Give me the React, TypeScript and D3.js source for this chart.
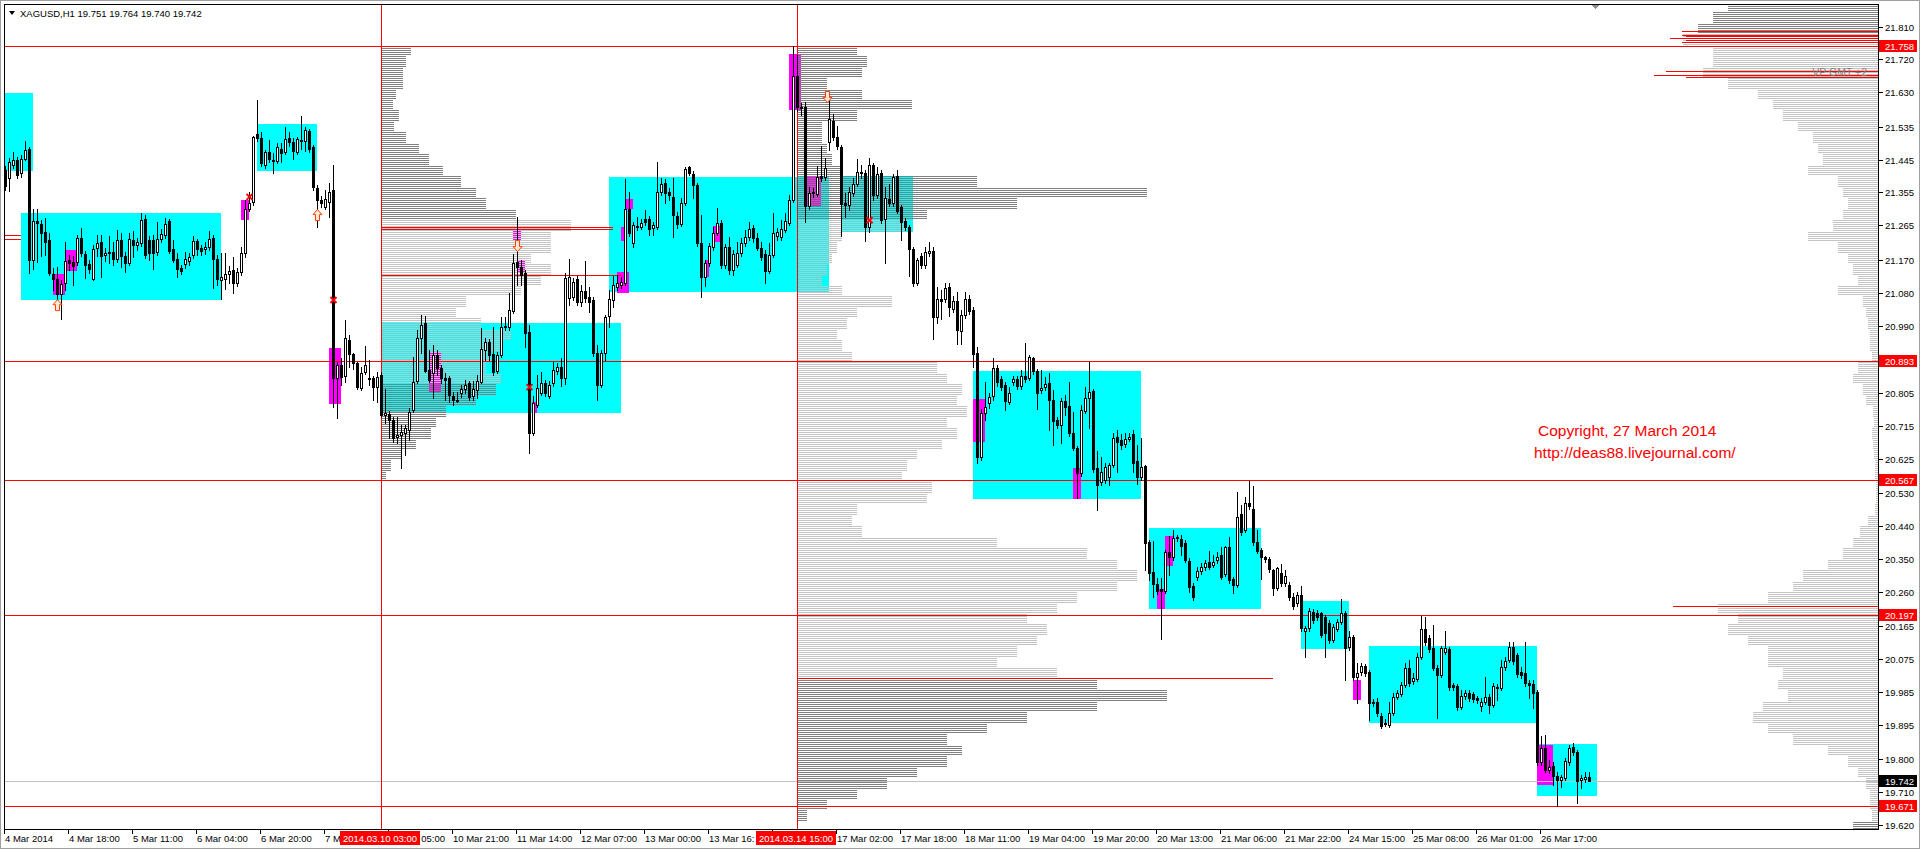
import React from "react";
import * as d3 from "d3";

const symbolName = "XAGUSD,H1";

// Hourly candles from 4 Mar 2014 to 27 Mar 2014: [open, high, low, close]
const ohlc: [number, number, number, number][] = [
  [21.417,21.428,21.362,21.373],[21.395,21.450,21.359,21.439],[21.430,21.467,21.422,21.444],[21.444,21.453,21.395,21.403],
  [21.409,21.458,21.398,21.447],[21.447,21.496,21.444,21.472],[21.474,21.480,21.134,21.170],[21.170,21.309,21.145,21.277],
  [21.277,21.309,21.165,21.271],[21.268,21.279,21.181,21.244],[21.247,21.285,21.183,21.219],[21.225,21.244,21.128,21.134],
  [21.131,21.148,21.087,21.117],[21.117,21.150,21.060,21.076],[21.076,21.115,21.008,21.104],[21.107,21.219,21.087,21.167],
  [21.170,21.183,21.142,21.162],[21.165,21.181,21.101,21.153],[21.165,21.238,21.156,21.230],[21.230,21.258,21.181,21.189],
  [21.186,21.194,21.120,21.156],[21.159,21.170,21.134,21.145],[21.117,21.211,21.115,21.200],[21.203,21.238,21.181,21.216],
  [21.219,21.238,21.123,21.181],[21.183,21.203,21.167,21.189],[21.192,21.236,21.162,21.189],[21.192,21.219,21.156,21.172],
  [21.172,21.252,21.165,21.225],[21.225,21.244,21.150,21.181],[21.181,21.192,21.137,21.162],[21.162,21.244,21.156,21.227],
  [21.225,21.249,21.178,21.211],[21.211,21.230,21.197,21.219],[21.216,21.299,21.208,21.279],[21.282,21.293,21.175,21.183],
  [21.225,21.236,21.170,21.189],[21.225,21.238,21.145,21.189],[21.192,21.274,21.183,21.227],[21.227,21.255,21.219,21.241],
  [21.238,21.285,21.230,21.268],[21.277,21.282,21.189,21.194],[21.200,21.225,21.165,21.170],[21.172,21.189,21.123,21.145],
  [21.148,21.156,21.131,21.139],[21.159,21.192,21.148,21.172],[21.167,21.189,21.156,21.178],[21.183,21.236,21.175,21.222],
  [21.222,21.227,21.183,21.200],[21.203,21.211,21.183,21.194],[21.200,21.219,21.186,21.205],[21.205,21.249,21.197,21.227],
  [21.230,21.238,21.093,21.172],[21.172,21.183,21.101,21.117],[21.115,21.189,21.063,21.123],[21.117,21.189,21.090,21.131],
  [21.131,21.153,21.107,21.139],[21.142,21.178,21.079,21.107],[21.107,21.148,21.098,21.137],[21.137,21.205,21.128,21.189],
  [21.189,21.334,21.178,21.309],[21.309,21.357,21.304,21.326],[21.329,21.510,21.321,21.507],[21.515,21.609,21.496,21.504],
  [21.504,21.521,21.428,21.436],[21.430,21.472,21.422,21.467],[21.467,21.499,21.439,21.447],[21.444,21.464,21.409,21.441],
  [21.441,21.491,21.436,21.480],[21.474,21.491,21.439,21.463],[21.467,21.535,21.461,21.502],[21.504,21.521,21.482,21.493],
  [21.493,21.504,21.447,21.469],[21.467,21.507,21.461,21.502],[21.499,21.565,21.474,21.496],[21.496,21.535,21.469,21.526],
  [21.524,21.529,21.467,21.474],[21.480,21.485,21.362,21.370],[21.367,21.375,21.260,21.334],[21.334,21.345,21.315,21.326],
  [21.315,21.362,21.309,21.337],[21.329,21.381,21.288,21.357],[21.362,21.430,20.766,20.846],[20.846,20.890,20.736,20.882],
  [20.882,20.901,20.827,20.849],[20.851,21.005,20.835,20.956],[20.950,20.964,20.876,20.912],[20.912,20.914,20.871,20.887],
  [20.887,20.890,20.816,20.821],[20.818,20.876,20.813,20.860],[20.862,20.934,20.857,20.882],[20.846,20.895,20.827,20.843],
  [20.846,20.851,20.786,20.821],[20.821,20.862,20.780,20.849],[20.854,20.862,20.739,20.744],[20.744,20.816,20.723,20.750],
  [20.747,20.755,20.681,20.731],[20.731,20.739,20.670,20.681],[20.684,20.739,20.668,20.690],[20.690,20.717,20.599,20.698],
  [20.695,20.717,20.635,20.709],[20.703,20.764,20.676,20.753],[20.758,20.904,20.753,20.835],[20.838,20.978,20.832,20.956],
  [20.956,21.019,20.915,20.991],[20.997,21.016,20.862,20.865],[20.868,20.923,20.835,20.841],[20.860,20.937,20.791,20.909],
  [20.909,20.923,20.854,20.873],[20.873,20.882,20.832,20.846],[20.846,20.860,20.786,20.841],[20.846,20.851,20.780,20.799],
  [20.797,20.808,20.772,20.786],[20.786,20.808,20.780,20.783],[20.805,20.827,20.794,20.816],[20.816,20.841,20.805,20.827],
  [20.832,20.838,20.786,20.794],[20.797,20.838,20.786,20.816],[20.813,20.854,20.791,20.838],[20.835,20.983,20.832,20.926],
  [20.923,20.956,20.895,20.945],[20.945,20.953,20.895,20.909],[20.912,20.986,20.854,20.862],[20.865,20.917,20.860,20.909],
  [20.909,21.013,20.904,20.986],[20.986,21.013,20.978,20.989],[20.986,21.079,20.978,21.033],[21.030,21.186,21.024,21.162],
  [21.165,21.288,21.101,21.150],[21.150,21.170,21.101,21.128],[21.134,21.142,20.931,20.969],[20.972,20.991,20.640,20.695],
  [20.695,20.797,20.690,20.777],[20.772,20.854,20.766,20.818],[20.805,20.862,20.799,20.832],[20.832,20.841,20.797,20.805],
  [20.797,20.838,20.791,20.827],[20.832,20.890,20.824,20.868],[20.865,20.887,20.857,20.876],[20.876,20.901,20.824,20.846],
  [20.846,21.134,20.829,21.120],[21.065,21.172,21.046,21.123],[21.068,21.120,21.060,21.109],[21.117,21.126,21.046,21.054],
  [21.054,21.101,21.043,21.085],[21.085,21.167,21.054,21.065],[21.068,21.096,21.027,21.054],[21.060,21.068,20.906,20.915],
  [20.915,20.937,20.786,20.827],[20.827,20.923,20.821,20.915],[20.915,21.019,20.895,21.013],[21.016,21.087,20.986,21.063],
  [21.060,21.126,21.041,21.101],[21.096,21.128,21.087,21.107],[21.101,21.123,21.093,21.109],[21.107,21.392,21.101,21.309],
  [21.309,21.357,21.236,21.244],[21.216,21.274,21.205,21.266],[21.263,21.288,21.252,21.260],[21.260,21.282,21.255,21.271],
  [21.282,21.307,21.266,21.274],[21.282,21.290,21.238,21.255],[21.258,21.274,21.238,21.266],[21.260,21.439,21.255,21.357],
  [21.357,21.395,21.348,21.378],[21.381,21.392,21.326,21.354],[21.357,21.367,21.334,21.348],[21.343,21.395,21.233,21.293],
  [21.290,21.301,21.258,21.268],[21.268,21.340,21.263,21.326],[21.326,21.425,21.321,21.419],[21.425,21.428,21.403,21.409],
  [21.406,21.414,21.340,21.375],[21.375,21.381,21.208,21.216],[21.216,21.293,21.068,21.123],[21.123,21.170,21.098,21.162],
  [21.162,21.216,21.153,21.208],[21.205,21.260,21.197,21.244],[21.244,21.312,21.238,21.271],[21.271,21.279,21.148,21.156],
  [21.156,21.214,21.148,21.205],[21.205,21.233,21.131,21.142],[21.142,21.197,21.128,21.186],[21.156,21.219,21.150,21.189],
  [21.189,21.230,21.181,21.216],[21.216,21.252,21.208,21.233],[21.233,21.274,21.225,21.255],[21.258,21.266,21.219,21.230],
  [21.230,21.244,21.197,21.203],[21.203,21.219,21.170,21.178],[21.186,21.197,21.107,21.139],[21.139,21.216,21.134,21.183],
  [21.183,21.299,21.178,21.244],[21.236,21.258,21.225,21.247],[21.233,21.279,21.225,21.255],[21.252,21.299,21.247,21.277],
  [21.271,21.348,21.266,21.334],[21.334,21.757,21.329,21.675],[21.675,21.732,21.579,21.590],[21.590,21.600,21.568,21.587],
  [21.590,21.603,21.274,21.318],[21.318,21.370,21.309,21.354],[21.357,21.367,21.343,21.354],[21.351,21.428,21.345,21.398],
  [21.400,21.482,21.386,21.395],[21.398,21.450,21.389,21.422],[21.493,21.628,21.472,21.557],[21.551,21.570,21.499,21.507],
  [21.507,21.537,21.474,21.482],[21.480,21.485,21.236,21.323],[21.326,21.354,21.288,21.321],[21.321,21.370,21.307,21.357],
  [21.354,21.395,21.345,21.378],[21.378,21.447,21.373,21.411],[21.409,21.430,21.395,21.411],[21.409,21.417,21.222,21.260],
  [21.260,21.450,21.247,21.430],[21.430,21.436,21.334,21.348],[21.348,21.425,21.340,21.406],[21.409,21.417,21.271,21.279],
  [21.282,21.370,21.162,21.340],[21.337,21.378,21.318,21.326],[21.326,21.406,21.318,21.398],[21.400,21.417,21.299,21.304],
  [21.315,21.321,21.225,21.274],[21.277,21.285,21.252,21.260],[21.260,21.266,21.126,21.200],[21.200,21.205,21.098,21.107],
  [21.107,21.175,21.101,21.170],[21.181,21.189,21.148,21.156],[21.156,21.205,21.148,21.192],[21.189,21.219,21.181,21.194],
  [21.194,21.205,20.953,21.013],[21.013,21.096,20.997,21.063],[21.063,21.087,21.008,21.057],[21.063,21.107,21.054,21.093],
  [21.096,21.107,21.016,21.041],[21.035,21.071,21.027,21.057],[21.057,21.082,20.939,20.978],[20.975,21.033,20.939,21.019],
  [21.019,21.082,21.011,21.063],[21.063,21.074,21.022,21.030],[21.033,21.041,20.876,20.912],[20.915,20.931,20.613,20.629],
  [20.629,20.761,20.621,20.750],[20.750,20.835,20.731,20.766],[20.777,20.805,20.764,20.794],[20.797,20.901,20.786,20.873],
  [20.873,20.882,20.824,20.835],[20.843,20.851,20.813,20.821],[20.827,20.835,20.758,20.783],[20.780,20.821,20.775,20.805],
  [20.835,20.851,20.827,20.843],[20.843,20.851,20.816,20.824],[20.824,20.868,20.816,20.851],[20.851,20.942,20.835,20.843],
  [20.846,20.909,20.841,20.904],[20.901,20.904,20.857,20.865],[20.865,20.871,20.761,20.805],[20.813,20.868,20.805,20.818],
  [20.821,20.849,20.813,20.829],[20.832,20.860,20.703,20.786],[20.786,20.813,20.662,20.728],[20.731,20.739,20.709,20.717],
  [20.717,20.791,20.668,20.783],[20.783,20.799,20.744,20.766],[20.769,20.835,20.687,20.695],[20.695,20.753,20.648,20.654],
  [20.654,20.659,20.517,20.585],[20.585,20.772,20.577,20.758],[20.755,20.821,20.750,20.791],[20.791,20.890,20.709,20.808],
  [20.810,20.816,20.588,20.596],[20.599,20.646,20.484,20.552],[20.561,20.629,20.552,20.588],[20.566,20.613,20.558,20.602],
  [20.574,20.613,20.552,20.607],[20.607,20.695,20.602,20.681],[20.684,20.703,20.588,20.670],[20.676,20.692,20.651,20.662],
  [20.665,20.695,20.657,20.679],[20.679,20.695,20.673,20.684],[20.692,20.703,20.588,20.613],[20.618,20.662,20.555,20.574],
  [20.574,20.681,20.566,20.602],[20.604,20.607,20.319,20.393],[20.396,20.402,20.292,20.311],[20.314,20.399,20.245,20.281],
  [20.281,20.297,20.253,20.262],[20.267,20.297,20.130,20.262],[20.262,20.374,20.256,20.369],[20.369,20.412,20.306,20.355],
  [20.355,20.429,20.347,20.407],[20.410,20.415,20.399,20.407],[20.404,20.415,20.360,20.385],[20.393,20.402,20.341,20.347],
  [20.344,20.352,20.259,20.273],[20.275,20.284,20.237,20.245],[20.300,20.327,20.292,20.316],[20.316,20.338,20.308,20.327],
  [20.327,20.347,20.319,20.338],[20.341,20.371,20.322,20.327],[20.333,20.360,20.327,20.341],[20.347,20.369,20.338,20.355],
  [20.360,20.382,20.295,20.300],[20.308,20.385,20.303,20.382],[20.382,20.410,20.284,20.292],[20.295,20.300,20.256,20.278],
  [20.278,20.533,20.273,20.465],[20.473,20.497,20.415,20.423],[20.429,20.519,20.423,20.503],[20.503,20.563,20.486,20.495],
  [20.486,20.550,20.388,20.396],[20.396,20.429,20.366,20.371],[20.374,20.380,20.295,20.355],[20.355,20.358,20.341,20.349],
  [20.349,20.355,20.314,20.322],[20.319,20.322,20.251,20.270],[20.270,20.327,20.264,20.325],[20.311,20.336,20.275,20.284],
  [20.284,20.319,20.275,20.303],[20.278,20.286,20.237,20.245],[20.245,20.256,20.212,20.220],[20.229,20.259,20.220,20.251],
  [20.251,20.275,20.152,20.160],[20.152,20.166,20.081,20.160],[20.160,20.215,20.152,20.207],[20.204,20.212,20.174,20.182],
  [20.201,20.209,20.182,20.190],[20.201,20.204,20.135,20.141],[20.190,20.196,20.081,20.146],[20.174,20.182,20.119,20.127],
  [20.127,20.171,20.122,20.163],[20.157,20.185,20.152,20.177],[20.177,20.240,20.171,20.201],[20.201,20.207,20.017,20.105],
  [20.108,20.152,20.100,20.135],[20.135,20.141,20.017,20.026],[20.026,20.064,19.954,20.037],[20.040,20.064,20.032,20.056],
  [20.056,20.061,20.029,20.037],[20.040,20.045,19.908,19.954],[19.957,19.965,19.946,19.954],[19.957,19.968,19.919,19.927],
  [19.919,19.927,19.886,19.891],[19.899,19.910,19.891,19.897],[19.894,19.957,19.888,19.927],[19.927,19.982,19.921,19.971],
  [19.971,19.990,19.965,19.982],[19.979,20.012,19.973,20.004],[20.004,20.064,19.998,20.051],[20.051,20.072,20.001,20.009],
  [20.015,20.037,20.006,20.023],[20.020,20.092,20.015,20.081],[20.081,20.193,20.075,20.157],[20.157,20.190,20.114,20.122],
  [20.133,20.141,20.094,20.103],[20.105,20.168,20.045,20.051],[20.051,20.059,19.913,20.032],[20.032,20.111,20.026,20.105],
  [20.094,20.152,20.089,20.105],[20.103,20.108,19.990,19.998],[20.004,20.009,19.990,19.998],[20.001,20.006,19.935,19.943],
  [19.943,19.990,19.938,19.973],[19.973,19.990,19.965,19.982],[19.982,19.990,19.960,19.968],[19.979,19.984,19.957,19.965],
  [19.968,19.973,19.954,19.962],[19.946,19.968,19.932,19.957],[19.957,20.026,19.951,19.971],[19.971,19.979,19.927,19.949],
  [19.949,20.009,19.943,20.001],[19.998,20.006,19.962,19.995],[19.995,20.072,19.990,20.053],[20.053,20.081,20.045,20.070],
  [20.072,20.122,20.067,20.108],[20.108,20.122,20.061,20.070],[20.086,20.092,20.026,20.034],[20.040,20.053,20.023,20.032],
  [20.037,20.122,20.001,20.009],[20.009,20.017,19.968,20.004],[20.006,20.017,19.941,19.982],[19.984,19.990,19.784,19.792],
  [19.792,19.864,19.784,19.831],[19.831,19.866,19.765,19.770],[19.770,19.798,19.762,19.779],[19.781,19.792,19.729,19.754],
  [19.754,19.765,19.672,19.743],[19.743,19.757,19.724,19.751],[19.748,19.803,19.743,19.795],[19.792,19.839,19.784,19.831],
  [19.833,19.844,19.812,19.820],[19.820,19.825,19.680,19.740],[19.743,19.757,19.721,19.748],[19.746,19.765,19.737,19.751],
  [19.751,19.764,19.740,19.742],
];

const priceTicks = [21.81, 21.72, 21.63, 21.535, 21.445, 21.355, 21.265, 21.17, 21.08, 20.99, 20.9, 20.805, 20.715,
  20.625, 20.53, 20.44, 20.35, 20.26, 20.165, 20.075, 19.985, 19.895, 19.8, 19.71, 19.62];

const timeLabels = ["4 Mar 2014", "4 Mar 18:00", "5 Mar 11:00", "6 Mar 04:00", "6 Mar 20:00", "7 Mar 13:00",
  "10 Mar 05:00", "10 Mar 21:00", "11 Mar 14:00", "12 Mar 07:00", "13 Mar 00:00", "13 Mar 16:00", "14 Mar 09:00",
  "17 Mar 02:00", "17 Mar 18:00", "18 Mar 11:00", "19 Mar 04:00", "19 Mar 20:00", "20 Mar 13:00", "21 Mar 06:00",
  "21 Mar 22:00", "24 Mar 15:00", "25 Mar 08:00", "26 Mar 01:00", "26 Mar 17:00"];
const barsPerTimeLabel = 16;

const markedTimes: [number, string][] = [[94, "2014.03.10 03:00"], [198, "2014.03.14 15:00"]];

const levelPrices = [21.758, 20.893, 20.567, 20.197, 19.671];
const currentPrice = 19.742;
// [fromBar, toBar, price]
const levelSegments: [number, number, number][] = [
  [-0.2, 4, 21.238], [-0.2, 4, 21.227], [94, 152, 21.26], [94, 152, 21.255], [94, 154, 21.128], [198, 317, 20.023],
];

// [fromBar, toBar, topPrice, bottomPrice]
const cyanZones: [number, number, number, number][] = [
  [-0.2, 7, 21.628, 21.415], [4, 54, 21.299, 21.06], [63, 78, 21.543, 21.414], [94, 154, 20.997, 20.75],
  [151, 206, 21.398, 21.082], [209, 227, 21.4, 21.247], [242, 284, 20.865, 20.514], [286, 314, 20.435, 20.212],
  [324, 336, 20.234, 20.103], [341, 383, 20.111, 19.899], [383, 398, 19.842, 19.699],
];
const magentaZones: [number, number, number, number][] = [
  [12, 15, 21.131, 21.074], [15.25, 18, 21.197, 21.139], [59, 61, 21.334, 21.279], [81, 84, 20.928, 20.775],
  [106, 109, 20.915, 20.808], [127, 129, 21.252, 21.222], [128.25, 130, 21.17, 21.134], [131.75, 133, 20.78, 20.75],
  [153, 156, 21.137, 21.079], [154, 154.75, 21.26, 21.222], [155.25, 157, 21.337, 21.309], [175, 176, 21.17, 21.123],
  [177, 178.75, 21.263, 21.219], [196, 199, 21.735, 21.581], [200.5, 204, 21.398, 21.318], [242, 245, 20.788, 20.67],
  [267, 269, 20.599, 20.514], [288, 290, 20.267, 20.212], [290, 292, 20.412, 20.33], [337, 339, 20.017, 19.962],
  [383, 387, 19.839, 19.729],
];

const signalMarks: [number, number, string][] = [
  [13, 21.046, "up"], [78, 21.293, "up"], [128, 21.208, "down"], [205.5, 21.617, "down"],
  [61, 21.343, "x"], [82, 21.06, "x"], [131, 20.821, "x"], [216, 21.279, "x"],
];

// Volume profiles: relative volume per 0.03 price bin, listed from the top bin downward
const profileStep = 0.03;
const profile10Mar = [30, 25, 22, 22, 15, 12, 18, 13, 25, 38, 48, 62, 80, 95, 105, 135, 190, 170, 170, 150, 170, 160,
  140, 85, 75, 100, 130, 120, 110, 105, 120, 115, 95, 65, 55, 50, 35, 20, 10, 5];
const profile10MarTop = 21.76;
const valueArea10Mar = [21.28, 20.84];

const profile14Mar = [60, 70, 65, 30, 65, 115, 60, 25, 25, 30, 35, 45, 180, 350, 220, 130, 110, 45, 40, 35, 30, 25, 45,
  95, 60, 50, 40, 45, 55, 140, 150, 165, 160, 170, 150, 160, 145, 120, 110, 105, 135, 130, 60, 55, 65, 200, 290, 320,
  340, 320, 280, 260, 230, 250, 240, 220, 200, 260, 300, 370, 300, 230, 190, 150, 165, 150, 120, 90, 60, 30, 10];
const profile14MarTop = 21.76;
const valueArea14Mar = [21.275, 20.009];

const profileVisible = [150, 165, 180, 195, 165, 165, 175, 150, 120, 105, 95, 80, 65, 60, 55, 70, 40, 35, 30, 35, 45, 70,
  40, 30, 25, 20, 40, 15, 12, 10, 8, 8, 6, 20, 25, 15, 12, 5, 4, 6, 5, 4, 3, 3, 2, 2, 3, 10, 18, 25, 35, 50, 75, 85, 110,
  160, 140, 150, 130, 110, 110, 95, 100, 90, 115, 125, 110, 85, 50, 30, 20, 12, 8, 8, 6, 25];
const profileVisibleTop = 21.88;
const valueAreaVisible = [21.8, 19.63];
// [price, volume] of the highlighted profile rows
const profileVisibleMarked: [number, number][] = [
  [21.798, 196], [21.787, 196], [21.784, 192], [21.779, 208], [21.773, 192], [21.768, 196], [21.688, 212],
  [21.677, 224], [21.672, 192], [20.222, 205],
];

const copyrightLines = ["Copyright, 27 March 2014", "http://deas88.livejournal.com/"];

const W = 1920;
const H = 849;
const L = 4, T = 4, R = 1878, B = 829;
const FONT = "'Liberation Sans', Arial, sans-serif";
const AXIS_FONT_SIZE = 9.5;

const x = d3.scaleLinear().domain([0, 396]).range([5, 1589]);
const y = d3.scaleLinear().domain([19.609, 21.872]).range([B, T]);
const vol = d3.scaleLinear().domain([0, 100]).range([0, 100]);
const fmt = d3.format(".3f");

const rx = (b: number) => Math.round(x(b));
const ry = (p: number) => Math.round(y(p));

let measureCtx: CanvasRenderingContext2D | null = null;
function measure(t: string): number {
  if (!measureCtx) {
    measureCtx = document.createElement("canvas").getContext("2d");
    if (measureCtx) measureCtx.font = `${AXIS_FONT_SIZE}px 'Liberation Sans'`;
  }
  return measureCtx ? measureCtx.measureText(t).width : t.length * 5;
}

// Visible part of a time label when the marked-time boxes cover it (like the terminal does)
function visibleLabel(text: string, start: number, boxes: [number, number][]): { text: string; x: number } | null {
  const end = start + measure(text);
  for (const [b0, b1] of boxes) {
    if (end <= b0 || start >= b1) continue;
    if (start < b0) {
      let t = text;
      while (t.length && start + measure(t) > b0 + 1.5) t = t.slice(0, -1);
      return t.trim().length ? { text: t, x: start } : null;
    }
    let t = text;
    while (t.length && end - measure(t) < b1 + 1) t = t.slice(1);
    t = t.trimStart();
    return t.length ? { text: t, x: end - measure(t) } : null;
  }
  return { text, x: start };
}

type Prof = { values: number[]; top: number; va: number[]; anchor: number; dir: number };

function Profile({ values, top, va, anchor, dir }: Prof) {
  return (
    <g>
      {values.map((v, k) => {
        const pTop = top - k * profileStep;
        const pBot = pTop - profileStep;
        const y0 = ry(pTop);
        const y1 = ry(pBot);
        const len = Math.round(vol(v));
        const mid = (pTop + pBot) / 2;
        const inVa = mid <= va[0] && mid >= va[1];
        return (
          <rect key={k} x={dir > 0 ? anchor : anchor - len} y={y0} width={len} height={y1 - y0}
            fill={inVa ? "url(#hatchLight)" : "url(#hatchDark)"} />
        );
      })}
    </g>
  );
}

export default function App() {
  const last = ohlc[ohlc.length - 1];
  const header = `${symbolName}  ${last.map((v) => fmt(v)).join(" ")}`;
  const markBoxes: [number, number][] = markedTimes.map(([b]) => [rx(b) - 41, rx(b) + 39]);
  const labelPrices = [...levelPrices, currentPrice];
  const shownTicks = priceTicks.filter((p) => labelPrices.every((q) => Math.abs(y(p) - y(q)) >= 9));
  return (
    <svg width={W} height={H} viewBox={`0 0 ${W} ${H}`}
      style={{ position: "absolute", left: 0, top: 0, background: "#fff" }}>
      <defs>
        <pattern id="hatchDark" width="8" height="2" patternUnits="userSpaceOnUse">
          <rect x="0" y="0" width="8" height="1" fill="#808080" />
        </pattern>
        <pattern id="hatchLight" width="8" height="2" patternUnits="userSpaceOnUse">
          <rect x="0" y="0" width="8" height="1" fill="#c4c4c4" />
        </pattern>
        <clipPath id="plotClip">
          <rect x={L} y={T} width={R - L} height={B - T} />
        </clipPath>
      </defs>
      <rect x={0} y={0} width={W} height={H} fill="#fff" />
      <rect x={0.5} y={0.5} width={W - 1} height={H - 1} fill="none" stroke="#a0a0a0" />

      <g clipPath="url(#plotClip)" shapeRendering="crispEdges">
        {cyanZones.map(([s, e, pt, pb], i) => (
          <rect key={"c" + i} x={rx(s)} y={ry(pt)} width={rx(e) - rx(s)} height={ry(pb) - ry(pt)} fill="#00ffff" />
        ))}
        {magentaZones.map(([s, e, pt, pb], i) => (
          <rect key={"m" + i} x={rx(s)} y={ry(pt)} width={rx(e) - rx(s)} height={ry(pb) - ry(pt)} fill="#ff00ff" />
        ))}

        <Profile values={profile10Mar} top={profile10MarTop} va={valueArea10Mar} anchor={rx(markedTimes[0][0])} dir={1} />
        <Profile values={profile14Mar} top={profile14MarTop} va={valueArea14Mar} anchor={rx(markedTimes[1][0])} dir={1} />
        <Profile values={profileVisible} top={profileVisibleTop} va={valueAreaVisible} anchor={R} dir={-1} />
        {profileVisibleMarked.map(([p, v], i) => (
          <rect key={"pm" + i} x={R - Math.round(vol(v))} y={ry(p)} width={Math.round(vol(v))} height={1} fill="#ff0000" />
        ))}

        <text x={1867} y={76} textAnchor="end" fontFamily={FONT} fontSize={10.5} fill="#808080">VP GMT +2</text>

        <rect x={L} y={ry(currentPrice)} width={R - L} height={1} fill="#c0c0c0" />
        {levelPrices.map((p, i) => (
          <rect key={"l" + i} x={L} y={ry(p)} width={R - L} height={1} fill="#ff0000" />
        ))}
        {levelSegments.map(([s, e, p], i) => (
          <rect key={"s" + i} x={rx(s)} y={ry(p)} width={rx(e) - rx(s)} height={1} fill="#ff0000" />
        ))}
        {markedTimes.map(([b], i) => (
          <rect key={"v" + i} x={rx(b)} y={T} width={1} height={B - T} fill="#ff0000" />
        ))}

        {ohlc.map(([o, h, l, c], i) => {
          const cx = rx(i);
          const yo = ry(o), yc = ry(c), yh = ry(h), yl = ry(l);
          const top = Math.min(yo, yc);
          const bot = Math.max(yo, yc);
          const bull = c >= o;
          return (
            <g key={"k" + i}>
              <rect x={cx} y={yh} width={1} height={Math.max(yl - yh + 1, 1)} fill="#000" />
              <rect x={cx - 1} y={top} width={3} height={Math.max(bot - top + 1, 1)} fill="#000" />
              {bull && bot - top > 1 && <rect x={cx} y={top + 1} width={1} height={bot - top - 1} fill="#fff" />}
            </g>
          );
        })}
      </g>

      <g clipPath="url(#plotClip)">
        {signalMarks.map(([b, p, kind], i) => {
          const cx = x(b) + 0.5;
          const cy = y(p);
          if (kind === "x") {
            return (
              <g key={"x" + i} stroke="#ff0000" strokeWidth={2}>
                <line x1={cx - 3} y1={cy - 3} x2={cx + 3} y2={cy + 3} />
                <line x1={cx - 3} y1={cy + 3} x2={cx + 3} y2={cy - 3} />
              </g>
            );
          }
          const s = kind === "up" ? 1 : -1;
          const pts = [[0, -5.5], [4.5, -0.5], [2, -0.5], [2, 5.5], [-2, 5.5], [-2, -0.5], [-4.5, -0.5]]
            .map(([dx, dy]) => `${cx + dx},${cy + s * dy}`).join(" ");
          return <polygon key={"a" + i} points={pts} fill="#ffe8d8" stroke="#ff4000" strokeWidth={1} />;
        })}
        {copyrightLines.map((t, i) => (
          <text key={"cp" + i} x={i === 0 ? 1538 : 1534} y={i === 0 ? 436 : 458} fontFamily={FONT} fontSize={15.5} fill="#ff0000">{t}</text>
        ))}
      </g>

      {/* frame */}
      <g shapeRendering="crispEdges">
        <rect x={L} y={T} width={R - L} height={1} fill="#000" />
        <rect x={L} y={T} width={1} height={B - T} fill="#000" />
        <rect x={R} y={T} width={1} height={B - T + 1} fill="#000" />
        <rect x={L} y={B} width={R - L} height={1} fill="#000" />
        <polygon points="1591,5 1599,5 1595,9" fill="#909090" />
      </g>

      {/* header */}
      <polygon points="9,11 15,11 12,15" fill="#000" />
      <text x={20} y={16.5} fontFamily={FONT} fontSize={AXIS_FONT_SIZE} fill="#000">{header}</text>

      {/* price axis */}
      <g fontFamily={FONT} fontSize={AXIS_FONT_SIZE} shapeRendering="crispEdges">
        {priceTicks.map((p, i) => (
          <rect key={"ptm" + i} x={R + 1} y={ry(p)} width={4} height={1} fill="#000" />
        ))}
        {shownTicks.map((p, i) => (
          <text key={"pt" + i} x={1885} y={ry(p) + 0.5} dominantBaseline="central" fill="#000">{fmt(p)}</text>
        ))}
        {levelPrices.map((p, i) => (
          <g key={"lp" + i}>
            <rect x={R + 1} y={ry(p) - 6} width={38} height={12} fill="#ff0000" />
            <text x={1885} y={ry(p) + 0.5} dominantBaseline="central" fill="#fff">{fmt(p)}</text>
          </g>
        ))}
        <rect x={R + 1} y={ry(currentPrice) - 6} width={38} height={12} fill="#000" />
        <text x={1885} y={ry(currentPrice) + 0.5} dominantBaseline="central" fill="#fff">{fmt(currentPrice)}</text>
      </g>

      {/* time axis */}
      <g fontFamily={FONT} fontSize={AXIS_FONT_SIZE} shapeRendering="crispEdges">
        {timeLabels.map((t, i) => {
          const bx = rx(i * barsPerTimeLabel);
          const vis = visibleLabel(t, bx, markBoxes);
          return (
            <g key={"tl" + i}>
              <rect x={bx - 1} y={B + 1} width={1} height={4} fill="#000" />
              {vis && <text x={vis.x} y={842} fill="#000">{vis.text}</text>}
            </g>
          );
        })}
        {markedTimes.map(([b, t], i) => (
          <g key={"mt" + i}>
            <rect x={rx(b) - 41} y={831} width={80} height={14} fill="#ff0000" />
            <text x={rx(b) - 1} y={842} textAnchor="middle" fill="#fff">{t}</text>
          </g>
        ))}
      </g>
    </svg>
  );
}
